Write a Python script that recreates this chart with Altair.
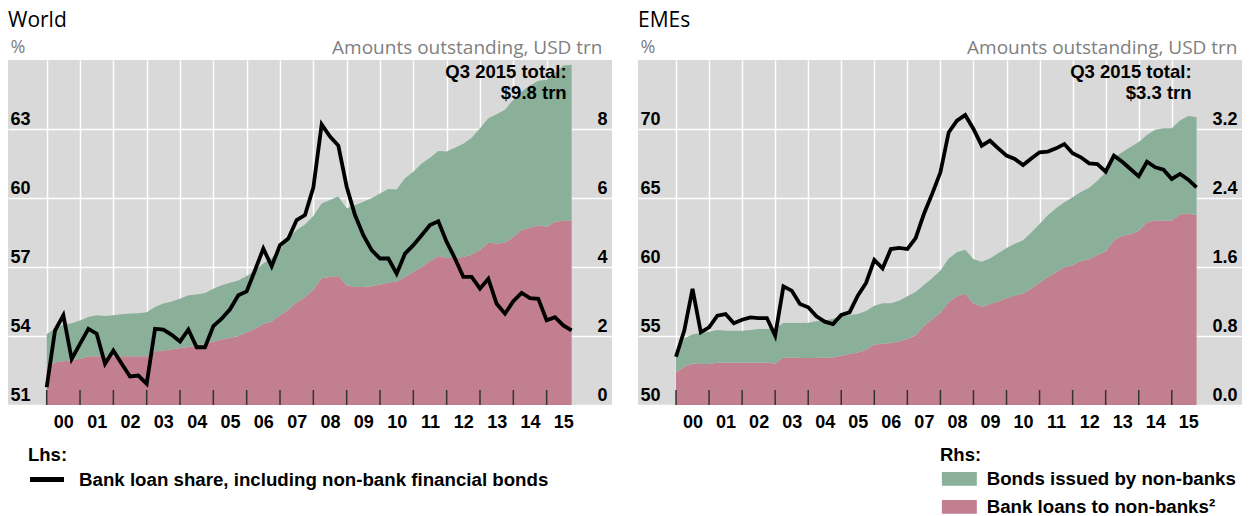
import altair as alt
import pandas as pd

# ---------------- data ----------------
# quarter-end positions 1999Q4 ... 2015Q3 (64 quarters)
quarters = pd.period_range("1999Q4", "2015Q3", freq="Q")
t_pos = [p.year + p.quarter / 4 for p in quarters]
years = list(range(2000, 2016))

SHARE = "Bank loan share, including non-bank financial bonds"
BONDS = "Bonds issued by non-banks"
LOANS = "Bank loans to non-banks²"

world_share = [51.77, 54.24, 54.90, 53.00, 53.66, 54.31, 54.10, 52.79, 53.37, 52.79,
               52.24, 52.28, 51.92, 54.31, 54.28, 54.05, 53.76, 54.28, 53.51, 53.51,
               54.43, 54.75, 55.16, 55.77, 55.94, 56.86, 57.80, 57.03, 57.95, 58.24,
               59.04, 59.26, 60.45, 63.20, 62.67, 62.28, 60.49, 59.26, 58.38, 57.73,
               57.37, 57.37, 56.71, 57.58, 57.95, 58.38, 58.82, 58.99, 58.09, 57.37,
               56.57, 56.57, 56.06, 56.49, 55.40, 54.97, 55.51, 55.87, 55.65, 55.62,
               54.68, 54.82, 54.46, 54.24]
world_loans = [1.05, 1.24, 1.27, 1.29, 1.34, 1.41, 1.41, 1.41, 1.41, 1.41,
               1.41, 1.41, 1.41, 1.56, 1.58, 1.61, 1.65, 1.68, 1.72, 1.77,
               1.84, 1.90, 1.94, 2.00, 2.11, 2.21, 2.35, 2.42, 2.60, 2.77,
               2.98, 3.12, 3.34, 3.68, 3.71, 3.74, 3.47, 3.42, 3.42, 3.44,
               3.49, 3.55, 3.57, 3.71, 3.86, 4.00, 4.17, 4.32, 4.26, 4.26,
               4.29, 4.36, 4.49, 4.70, 4.68, 4.70, 4.87, 5.07, 5.14, 5.21,
               5.16, 5.31, 5.34, 5.34]
world_bonds = [1.01, 0.97, 1.06, 1.08, 1.11, 1.14, 1.19, 1.17, 1.19, 1.22,
               1.24, 1.25, 1.28, 1.28, 1.36, 1.39, 1.43, 1.50, 1.48, 1.48,
               1.53, 1.57, 1.60, 1.61, 1.63, 1.69, 1.75, 1.84, 1.89, 2.07,
               2.09, 2.11, 2.14, 2.16, 2.23, 2.30, 2.23, 2.37, 2.47, 2.55,
               2.64, 2.71, 2.68, 2.86, 2.90, 3.00, 3.00, 3.04, 3.09, 3.20,
               3.28, 3.39, 3.53, 3.61, 3.75, 3.86, 3.98, 4.02, 4.12, 4.19,
               4.27, 4.31, 4.50, 4.52]

eme_share = [53.50, 55.39, 58.41, 55.27, 55.63, 56.47, 56.59, 55.92, 56.18, 56.35,
             56.30, 56.30, 55.02, 58.60, 58.29, 57.32, 57.08, 56.43, 56.04, 55.87,
             56.52, 56.71, 57.92, 58.84, 60.51, 59.90, 61.30, 61.38, 61.30, 62.10,
             63.84, 65.30, 66.86, 69.75, 70.60, 71.01, 70.00, 68.79, 69.15, 68.60,
             68.07, 67.83, 67.39, 67.87, 68.31, 68.36, 68.60, 68.91, 68.24, 67.95,
             67.51, 67.46, 66.91, 68.07, 67.63, 67.10, 66.57, 67.63, 67.22, 67.05,
             66.38, 66.74, 66.33, 65.77]
eme_loans = [0.38, 0.44, 0.48, 0.475, 0.475, 0.49, 0.49, 0.49, 0.49, 0.49,
             0.49, 0.49, 0.48, 0.55, 0.55, 0.545, 0.545, 0.545, 0.55, 0.55,
             0.57, 0.59, 0.61, 0.64, 0.70, 0.71, 0.72, 0.74, 0.765, 0.81,
             0.92, 0.99, 1.07, 1.19, 1.26, 1.29, 1.18, 1.14, 1.17, 1.20,
             1.24, 1.27, 1.29, 1.35, 1.42, 1.48, 1.54, 1.60, 1.62, 1.67,
             1.69, 1.74, 1.78, 1.91, 1.96, 1.98, 2.02, 2.12, 2.14, 2.14,
             2.14, 2.21, 2.22, 2.20]
eme_bonds = [0.17, 0.33, 0.34, 0.36, 0.375, 0.38, 0.37, 0.37, 0.37, 0.38,
             0.39, 0.39, 0.41, 0.40, 0.40, 0.405, 0.41, 0.425, 0.43, 0.45,
             0.46, 0.45, 0.445, 0.45, 0.45, 0.47, 0.46, 0.47, 0.495, 0.50,
             0.47, 0.48, 0.49, 0.51, 0.51, 0.51, 0.51, 0.52, 0.53, 0.56,
             0.58, 0.60, 0.62, 0.65, 0.68, 0.72, 0.74, 0.75, 0.79, 0.80,
             0.83, 0.86, 0.92, 0.96, 0.97, 1.01, 1.03, 1.01, 1.05, 1.07,
             1.07, 1.09, 1.13, 1.14]

# ---------------- styling ----------------
GREEN = "#8ab09a"
PINK = "#c17f8f"
GRAY_BG = "#d9d9d9"
BOLD_FONT = "Liberation Sans"
LIGHT_FONT = "Open Sans"
W, H = 604, 345
SYM = 225  # legend symbol size (15 px box)


def panel(title, share, loans, bonds, xdom, ldom, rdom, lvals, rvals, rfmt,
          note, lhs_legend, rhs_legend, rtitle_x):
    n = len(t_pos)
    area_df = pd.DataFrame({
        "t": t_pos + t_pos,
        "v": loans + bonds,
        "series": [LOANS] * n + [BONDS] * n,
        "ord": [0] * n + [1] * n,
    })
    line_df = pd.DataFrame({"t": t_pos, "v": share, "series": [SHARE] * n})
    tick_df = pd.DataFrame({"t": years})
    note_df = pd.DataFrame({"t": [t_pos[-1]], "label": [note]})

    xscale = alt.Scale(domain=xdom, nice=False, zero=False)
    px_year = W / (xdom[1] - xdom[0])

    x_axis = alt.Axis(values=years, labelExpr="substring(toString(datum.value), 2, 4)",
                      grid=True, gridColor="white", gridWidth=1.5, ticks=False,
                      domain=False, labelOffset=px_year / 2, labelPadding=8,
                      labelFlush=False, labelOverlap=False,
                      labelFont=BOLD_FONT, labelFontWeight="bold", labelFontSize=18,
                      labelColor="black", title=None)
    x_enc = alt.X("t:Q", scale=xscale, axis=x_axis)

    if rhs_legend:
        color_legend = alt.Legend(
            title="Rhs:", orient="none", legendX=302, legendY=386, padding=0,
            titleFont=BOLD_FONT, titleFontWeight="bold", titleFontSize=18.5,
            titleColor="black", titlePadding=5, labelLimit=800,
            labelFont=BOLD_FONT, labelFontWeight="bold", labelFontSize=18.7,
            labelColor="black", labelOffset=18, rowPadding=8, symbolOffset=10,
            symbolType="M-2.33,-0.93L2.33,-0.93L2.33,0.93L-2.33,0.93Z", symbolSize=SYM,
            symbolStrokeWidth=0, symbolOpacity=1)
    else:
        color_legend = None

    area = alt.Chart(area_df).mark_area(opacity=1, interpolate="linear").encode(
        x=x_enc,
        y=alt.Y("v:Q", stack="zero",
                scale=alt.Scale(domain=rdom, nice=False, zero=True),
                axis=alt.Axis(orient="right", values=rvals, format=rfmt, grid=False,
                              ticks=False, domain=False, labelAlign="right",
                              labelPadding=-5, labelBaseline="alphabetic",
                              labelOffset=-5, labelFlush=False, labelOverlap=False,
                              labelFont=BOLD_FONT, labelFontWeight="bold",
                              labelFontSize=18, labelColor="black",
                              title="Amounts outstanding, USD trn", titleAngle=0,
                              titleAlign="right", titleBaseline="middle",
                              titleX=rtitle_x, titleY=-13, titleFont=LIGHT_FONT,
                              titleFontWeight="normal", titleFontSize=19,
                              titleColor="#808080")),
        color=alt.Color("series:N",
                        scale=alt.Scale(domain=[BONDS, LOANS], range=[GREEN, PINK]),
                        legend=color_legend),
        order=alt.Order("ord:Q"),
    )

    if lhs_legend:
        stroke_legend = alt.Legend(
            title="Lhs:", orient="none", legendX=20, legendY=386, padding=0,
            titleFont=BOLD_FONT, titleFontWeight="bold", titleFontSize=18.5,
            titleColor="black", titlePadding=5, labelLimit=800,
            labelFont=BOLD_FONT, labelFontWeight="bold", labelFontSize=18.7,
            labelColor="black", labelOffset=22, symbolOffset=9,
            symbolType="M-2.27,0L2.27,0", symbolSize=SYM, symbolStrokeWidth=5)
    else:
        stroke_legend = None

    line = alt.Chart(line_df).mark_line(strokeWidth=3.8).encode(
        x=x_enc,
        y=alt.Y("v:Q", scale=alt.Scale(domain=ldom, nice=False, zero=False),
                axis=alt.Axis(orient="left", values=lvals, grid=True,
                              gridColor="white", gridWidth=1.5, ticks=False,
                              domain=False, labelAlign="left", labelPadding=-2,
                              labelBaseline="alphabetic", labelOffset=-5,
                              labelFlush=False, labelOverlap=False,
                              labelFont=BOLD_FONT, labelFontWeight="bold",
                              labelFontSize=18, labelColor="black",
                              title="%", titleAngle=0, titleAlign="left",
                              titleBaseline="middle", titleX=2, titleY=-13,
                              titleFont=LIGHT_FONT, titleFontWeight="normal",
                              titleFontSize=18, titleColor="#808080")),
        stroke=alt.Stroke("series:N",
                          scale=alt.Scale(domain=[SHARE], range=["#000000"]),
                          legend=stroke_legend),
    )

    ticks = alt.Chart(tick_df).mark_rule(color="#333333", strokeWidth=1.5).encode(
        x=x_enc,
        y=alt.value(H),
        y2=alt.value(H - 15),
    )

    note_mark = alt.Chart(note_df).mark_text(
        align="right", baseline="top", dx=-5, font=BOLD_FONT, fontWeight="bold",
        fontSize=18.5, lineBreak="\n", lineHeight=21, color="black"
    ).encode(
        x=x_enc,
        y=alt.value(3),
        text="label:N",
    )

    return alt.layer(area, line, ticks, note_mark).resolve_scale(
        y="independent"
    ).properties(
        width=W, height=H,
        title=alt.TitleParams(text=title, anchor="start", frame="group",
                              font=LIGHT_FONT, fontSize=21, fontWeight="normal",
                              color="black", offset=7),
    )


world = panel("World", world_share, world_loans, world_bonds,
              [1998.839, 2016.961], [51, 66], [0, 10],
              [51, 54, 57, 60, 63], [0, 2, 4, 6, 8], "d",
              "Q3 2015 total:\n$9.8 trn", True, False, -10)
emes = panel("EMEs", eme_share, eme_loans, eme_bonds,
             [1998.850, 2017.125], [50, 75], [0, 4],
             [50, 55, 60, 65, 70], [0, 0.8, 1.6, 2.4, 3.2], ".1f",
             "Q3 2015 total:\n$3.3 trn", False, True, -5)

chart = alt.hconcat(world, emes, spacing=26).resolve_scale(
    x="independent", color="independent", stroke="independent"
).properties(
    padding={"left": 0, "top": 2, "right": 0, "bottom": 0}
).configure_view(fill=GRAY_BG, strokeWidth=0)

chart.save("out.html", embed_options={"renderer": "svg", "actions": False})
